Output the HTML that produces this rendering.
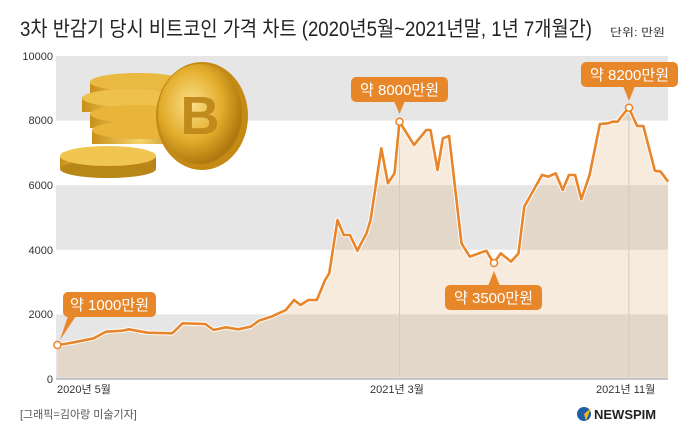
<!DOCTYPE html>
<html><head><meta charset="utf-8"><style>
html,body{margin:0;padding:0;background:#fff;}
svg{display:block;font-family:"Liberation Sans","Noto Sans CJK KR",sans-serif;}
</style></head><body>
<svg width="680" height="442" viewBox="0 0 680 442" xmlns="http://www.w3.org/2000/svg">
<defs>
<radialGradient id="gc" cx="0.4" cy="0.4" r="0.6"><stop offset="0" stop-color="#fbe08a"/><stop offset="0.6" stop-color="#e3ad2c"/><stop offset="1" stop-color="#b07a10"/></radialGradient>
<linearGradient id="gs" x1="0" y1="0" x2="1" y2="0"><stop offset="0" stop-color="#c98f1a"/><stop offset="0.5" stop-color="#f6d46a"/><stop offset="1" stop-color="#b57d12"/></linearGradient>
</defs>
<text x="20" y="36" font-size="21" fill="#222" textLength="572" lengthAdjust="spacingAndGlyphs">3차 반감기 당시 비트코인 가격 차트 (2020년5월~2021년말, 1년 7개월간)</text>
<text x="610" y="36" font-size="11" fill="#333" textLength="55" lengthAdjust="spacingAndGlyphs">단위: 만원</text>
<rect x="56" y="56" width="612" height="64.6" fill="#e6e6e6"/>
<rect x="56" y="185.2" width="612" height="64.6" fill="#e6e6e6"/>
<rect x="56" y="314.4" width="612" height="64.6" fill="#e6e6e6"/>
<g font-size="11" fill="#333" text-anchor="end">
<text x="53" y="60">10000</text><text x="53" y="124">8000</text><text x="53" y="189">6000</text><text x="53" y="254">4000</text><text x="53" y="318">2000</text><text x="53" y="383">0</text>
</g>
<g transform="translate(40,40) scale(0.41322,0.33333)">
<polygon fill="#d9a46a" fill-opacity="0.22" points="42,1012 42,915 60,912 90,905 130,895 160,875 200,872 215,868 260,878 320,880 345,850 400,852 420,870 450,862 480,868 510,860 530,842 560,830 595,810 615,780 630,795 650,780 670,780 690,720 700,700 720,540 735,585 750,585 768,632 790,580 800,540 826,325 842,430 858,400 870,245 905,315 935,270 945,270 962,390 975,295 990,288 1020,610 1040,650 1080,632 1098,670 1115,640 1140,665 1158,640 1172,500 1215,405 1230,410 1248,400 1265,450 1280,405 1295,405 1310,478 1330,405 1355,252 1375,250 1385,245 1398,245 1410,225 1425,203 1445,258 1460,258 1488,392 1502,395 1520,425 1520,1012"/>
<line x1="870" y1="245" x2="870" y2="1012" stroke="#ccc" stroke-width="1" vector-effect="non-scaling-stroke"/>
<line x1="1425" y1="203" x2="1425" y2="1012" stroke="#ccc" stroke-width="1" vector-effect="non-scaling-stroke"/>
<polyline fill="none" stroke="#fff" stroke-width="4.5" stroke-linejoin="round" vector-effect="non-scaling-stroke" points="42,915 60,912 90,905 130,895 160,875 200,872 215,868 260,878 320,880 345,850 400,852 420,870 450,862 480,868 510,860 530,842 560,830 595,810 615,780 630,795 650,780 670,780 690,720 700,700 720,540 735,585 750,585 768,632 790,580 800,540 826,325 842,430 858,400 870,245 905,315 935,270 945,270 962,390 975,295 990,288 1020,610 1040,650 1080,632 1098,670 1115,640 1140,665 1158,640 1172,500 1215,405 1230,410 1248,400 1265,450 1280,405 1295,405 1310,478 1330,405 1355,252 1375,250 1385,245 1398,245 1410,225 1425,203 1445,258 1460,258 1488,392 1502,395 1520,425"/>
<polyline fill="none" stroke="#e8852a" stroke-width="2.6" stroke-linejoin="round" vector-effect="non-scaling-stroke" points="42,915 60,912 90,905 130,895 160,875 200,872 215,868 260,878 320,880 345,850 400,852 420,870 450,862 480,868 510,860 530,842 560,830 595,810 615,780 630,795 650,780 670,780 690,720 700,700 720,540 735,585 750,585 768,632 790,580 800,540 826,325 842,430 858,400 870,245 905,315 935,270 945,270 962,390 975,295 990,288 1020,610 1040,650 1080,632 1098,670 1115,640 1140,665 1158,640 1172,500 1215,405 1230,410 1248,400 1265,450 1280,405 1295,405 1310,478 1330,405 1355,252 1375,250 1385,245 1398,245 1410,225 1425,203 1445,258 1460,258 1488,392 1502,395 1520,425"/>
</g>
<line x1="56" y1="379" x2="668" y2="379" stroke="#999" stroke-width="1"/>
<g fill="#fff" stroke="#e8852a" stroke-width="1.5">
<circle cx="57.4" cy="345" r="3.5"/><circle cx="399.5" cy="121.7" r="3.5"/><circle cx="494" cy="263" r="3.5"/><circle cx="629" cy="107.7" r="3.5"/>
</g>
<g fill="#e8872a">
<rect x="63" y="292" width="93" height="25" rx="5"/><polygon points="68,316 76,316 60,340"/>
<rect x="351" y="77" width="97" height="25" rx="5"/><polygon points="394,101 405,101 399.5,114"/>
<rect x="445" y="285" width="97" height="25" rx="5"/><polygon points="488,286 500,286 494,271"/>
<rect x="581" y="62" width="97" height="25" rx="5"/><polygon points="623,86 635,86 629,101"/>
</g>
<g fill="#fff" font-size="15">
<text x="70" y="310" textLength="79" lengthAdjust="spacingAndGlyphs">약 1000만원</text>
<text x="360" y="95" textLength="79" lengthAdjust="spacingAndGlyphs">약 8000만원</text>
<text x="454" y="303" textLength="79" lengthAdjust="spacingAndGlyphs">약 3500만원</text>
<text x="590" y="80" textLength="79" lengthAdjust="spacingAndGlyphs">약 8200만원</text>
</g>
<g>
<ellipse cx="138" cy="84" rx="48" ry="9" fill="url(#gs)"/><rect x="90" y="84" width="96" height="12" fill="url(#gs)"/><ellipse cx="138" cy="82" rx="48" ry="9" fill="#e9b940"/>
<rect x="82" y="98" width="96" height="14" fill="url(#gs)"/><ellipse cx="130" cy="98" rx="48" ry="9" fill="#eec04c"/>
<rect x="90" y="114" width="96" height="14" fill="url(#gs)"/><ellipse cx="138" cy="114" rx="48" ry="9" fill="#e8b43a"/>
<rect x="92" y="130" width="96" height="14" fill="url(#gs)"/><ellipse cx="140" cy="130" rx="48" ry="9" fill="#e8b43a"/>
<rect x="60" y="157" width="96" height="12" fill="url(#gs)"/><ellipse cx="108" cy="169" rx="48" ry="9" fill="#b98618"/><ellipse cx="108" cy="156" rx="48" ry="10" fill="#f0c650"/>
<ellipse cx="202" cy="116" rx="46" ry="54" fill="#c48a14"/>
<ellipse cx="200" cy="114" rx="42" ry="50" fill="url(#gc)"/>
<text x="200" y="134" font-size="54" font-weight="bold" fill="#c08a1c" text-anchor="middle">B</text>
</g>
<g font-size="11" fill="#333">
<text x="57" y="393">2020년 5월</text>
<text x="370" y="393">2021년 3월</text>
<text x="596" y="393">2021년 11월</text>
</g>
<text x="20" y="418" font-size="11" fill="#555">[그래픽=김아랑 미술기자]</text>
<circle cx="584" cy="414" r="7" fill="#1d5fa8"/><polygon points="584,414 591,408 586,421" fill="#f2b51c"/>
<text x="594" y="419" font-size="13" font-weight="bold" fill="#222">NEWSPIM</text>
</svg>
</body></html>
